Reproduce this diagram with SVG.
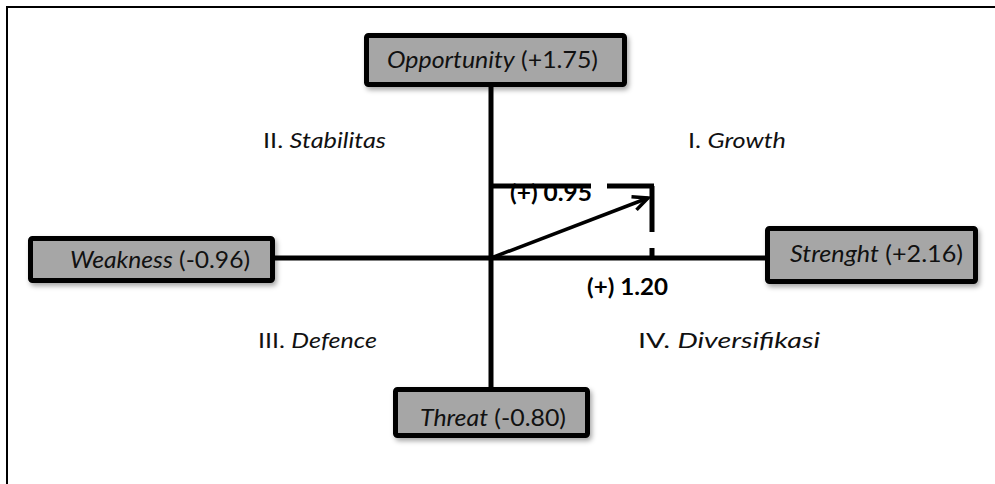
<svg xmlns="http://www.w3.org/2000/svg" width="995" height="484" viewBox="0 0 995 484">
<defs>
<filter id="sh" x="-10%" y="-20%" width="130%" height="160%">
<feDropShadow dx="2" dy="3" stdDeviation="2.5" flood-color="#000" flood-opacity="0.35"/>
</filter>
<marker id="ah" markerWidth="20" markerHeight="20" refX="17" refY="10" orient="auto" markerUnits="userSpaceOnUse">
<polyline points="2,3 17,10 2,17" fill="none" stroke="#000" stroke-width="3.5" stroke-linejoin="miter"/>
</marker>
</defs>
<style>
.box{fill:#a6a6a6;stroke:#000;stroke-width:5;}
.lbl{font-family:Lato,"Open Sans","Liberation Sans",sans-serif;font-size:23px;fill:#111;}
.q{font-family:Lato,"Open Sans","Liberation Sans",sans-serif;font-size:22px;fill:#111;}
.b{font-family:Lato,"Open Sans","Liberation Sans",sans-serif;font-size:22px;font-weight:bold;fill:#000;}
.it{font-style:italic;}
.ln{stroke:#000;stroke-width:5;fill:none;}
</style>
<rect x="7" y="7" width="1000" height="500" fill="#fff" stroke="#000" stroke-width="2"/>
<g id="connectors">
<line class="ln" x1="491" y1="87" x2="491" y2="387"/>
<line class="ln" x1="275" y1="258" x2="765" y2="258"/>
<path class="ln" d="M491,186 H591 M607,186 H654 M652,186 V232 M652,248 V258"/>
<line x1="491" y1="258" x2="648" y2="198" stroke="#000" stroke-width="3.5" marker-end="url(#ah)"/>
</g>
<g id="opportunity">
<rect class="box" x="366.5" y="35.5" width="258" height="49" rx="2" filter="url(#sh)"/>
<text class="lbl" x="387" y="68" textLength="211" lengthAdjust="spacingAndGlyphs"><tspan class="it">Opportunity</tspan> (+1.75)</text>
</g>
<g id="weakness">
<rect class="box" x="30.5" y="238.5" width="242" height="42" rx="2" filter="url(#sh)"/>
<text class="lbl" x="70" y="268" textLength="180" lengthAdjust="spacingAndGlyphs"><tspan class="it">Weakness</tspan> (-0.96)</text>
</g>
<g id="strenght">
<rect class="box" x="767.5" y="228.5" width="208" height="53" rx="2" filter="url(#sh)"/>
<text class="lbl" x="790" y="262" textLength="173" lengthAdjust="spacingAndGlyphs"><tspan class="it">Strenght</tspan> (+2.16)</text>
</g>
<g id="threat">
<rect class="box" x="395.5" y="389.5" width="192" height="46" rx="2" filter="url(#sh)"/>
<text class="lbl" x="420" y="426" textLength="146" lengthAdjust="spacingAndGlyphs"><tspan class="it">Threat</tspan> (-0.80)</text>
</g>
<g id="quadrants">
<text class="q" x="263" y="148" textLength="123" lengthAdjust="spacingAndGlyphs">II. <tspan class="it">Stabilitas</tspan></text>
<text class="q" x="688" y="148" textLength="98" lengthAdjust="spacingAndGlyphs">I. <tspan class="it">Growth</tspan></text>
<text class="q" x="258" y="348" textLength="119" lengthAdjust="spacingAndGlyphs">III. <tspan class="it">Defence</tspan></text>
<text class="q" x="638" y="348" textLength="182" lengthAdjust="spacingAndGlyphs">IV. <tspan class="it">Diversifikasi</tspan></text>
</g>
<g id="values">
<text class="b" x="510" y="201" textLength="82" lengthAdjust="spacingAndGlyphs">(+) 0.95</text>
<text class="b" x="587" y="295" textLength="81" lengthAdjust="spacingAndGlyphs">(+) 1.20</text>
</g>
</svg>
